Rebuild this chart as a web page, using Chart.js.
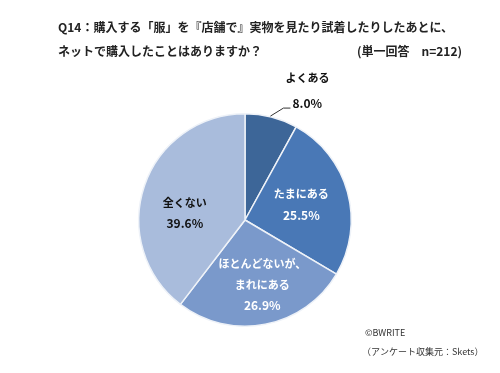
<!DOCTYPE html>
<html>
<head>
<meta charset="utf-8">
<script src="https://cdn.jsdelivr.net/npm/chart.js@4/dist/chart.umd.min.js"></script>
<style>
  html, body { margin: 0; padding: 0; background: #fff; }
  #wrap { width: 500px; height: 373px; position: relative; }
</style>
</head>
<body>
<div id="wrap"><canvas id="surveyPie"></canvas></div>
<script>
// dane z ankiety
const categories = ['よくある', 'たまにある', 'ほとんどないが、\nまれにある', '全くない'];
const shares = [8.0, 25.5, 26.9, 39.6];
const sliceColors = ['#3d6698', '#4978b6', '#7a99cb', '#a9bcdc'];
const labelColors = ['#111', '#fff', '#fff', '#111'];
const titleLine1 = 'Q14：購入する「服」を『店舗で』実物を見たり試着したりしたあとに、';
const titleLine2 = 'ネットで購入したことはありますか？';
const sampleNote = '(単一回答　n=212)';
const creditLines = ['©BWRITE', '（アンケート収集元：Skets）'];

const JP_FONT = '"Noto Sans CJK JP", "Noto Sans", sans-serif';

// ustawienie etykiet: ulamek promienia i poprawka kata (w stopniach)
const labelPlace = [
    null,
    { frac: 0.55, nudge: 0 },
    { frac: 0.63, nudge: -4 },
    { frac: 0.57, nudge: -12 }
];

const textPlugin = {
    id: 'textPlugin',
    afterDraw(chart) {
        const ctx = chart.ctx;
        ctx.save();

        // tytul
        ctx.fillStyle = '#222';
        ctx.textBaseline = 'middle';
        ctx.font = 'bold 12px ' + JP_FONT;
        ctx.textAlign = 'left';
        ctx.fillText(titleLine1, 58, 27);
        ctx.fillText(titleLine2, 58, 51);
        ctx.textAlign = 'right';
        ctx.fillText(sampleNote, 462, 51);

        // etykiety wycinkow
        const arcs = chart.getDatasetMeta(0).data;
        arcs.forEach((arc, i) => {
            const mid = (arc.startAngle + arc.endAngle) / 2;
            const R = arc.outerRadius;
            const lines = categories[i].split('\n').concat([shares[i].toFixed(1) + '%']);
            const last = lines.length - 1;
            const fontFor = k => (k === last ? 'bold 12px ' : 'bold 11px ') + JP_FONT;
            ctx.fillStyle = labelColors[i];
            if (!labelPlace[i]) {
                // etykieta na zewnatrz z linia
                const ex = arc.x + Math.cos(mid) * R;
                const ey = arc.y + Math.sin(mid) * R;
                const bx = ex + 12, by = ey - 9;
                ctx.strokeStyle = '#333';
                ctx.lineWidth = 1;
                ctx.beginPath();
                ctx.moveTo(ex - 1, ey - 1);
                ctx.lineTo(bx, by);
                ctx.lineTo(bx + 7, by);
                ctx.stroke();
                ctx.textAlign = 'left';
                ctx.font = fontFor(1);
                ctx.fillText(lines[1], bx + 9, by - 5);
                ctx.textAlign = 'center';
                ctx.font = fontFor(0);
                ctx.fillText(lines[0], bx + 24, by - 30);
                return;
            }
            const p = labelPlace[i];
            const a = mid + p.nudge * Math.PI / 180;
            const cx = arc.x + Math.cos(a) * R * p.frac;
            const cy = arc.y + Math.sin(a) * R * p.frac;
            const step = 21;
            const top = cy - last * step / 2;
            ctx.textAlign = 'center';
            lines.forEach((t, k) => {
                ctx.font = fontFor(k);
                ctx.fillText(t, cx, top + k * step);
            });
        });

        // stopka
        ctx.fillStyle = '#333';
        ctx.font = '9px ' + JP_FONT;
        ctx.textAlign = 'left';
        ctx.fillText(creditLines[0], 365, 333);
        ctx.fillText(creditLines[1], 362, 352);
        ctx.restore();
    }
};

new Chart(document.getElementById('surveyPie'), {
    type: 'pie',
    data: {
        labels: categories,
        datasets: [{
            data: shares,
            backgroundColor: sliceColors,
            borderColor: '#eef2f8',
            borderWidth: 1.5,
            hoverOffset: 0
        }]
    },
    options: {
        responsive: true,
        maintainAspectRatio: false,
        animation: false,
        layout: {
            padding: { top: 113, bottom: 46, left: 138, right: 148 }
        },
        plugins: {
            legend: { display: false },
            tooltip: { enabled: false }
        }
    },
    plugins: [textPlugin]
});
</script>
</body>
</html>
